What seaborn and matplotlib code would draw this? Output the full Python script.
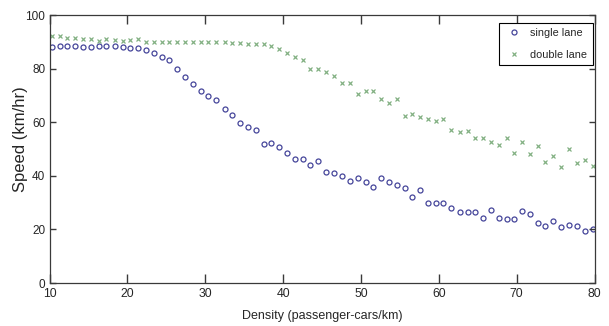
import numpy as np
import pandas as pd
import seaborn as sns
import matplotlib
matplotlib.use('Agg')
import matplotlib.pyplot as plt


#densité (passenger-cars/km)
density = [10.3, 11.3, 12.3, 13.3, 14.3, 15.3, 16.3, 17.3, 18.4, 19.4,
           20.4, 21.4, 22.4, 23.4, 24.4, 25.4, 26.4, 27.4, 28.4, 29.4,
           30.4, 31.4, 32.5, 33.5, 34.5, 35.5, 36.5, 37.5, 38.5, 39.5,
           40.5, 41.5, 42.5, 43.5, 44.5, 45.5, 46.5, 47.6, 48.6, 49.6,
           50.6, 51.6, 52.6, 53.6, 54.6, 55.6, 56.6, 57.6, 58.6, 59.6,
           60.6, 61.6, 62.7, 63.7, 64.7, 65.7, 66.7, 67.7, 68.7, 69.7,
           70.7, 71.7, 72.7, 73.7, 74.7, 75.7, 76.7, 77.8, 78.8, 79.8]

#vitesse voie simple
single_lane = [88.2, 88.3, 88.5, 88.3, 88.0, 88.1, 88.4, 88.4, 88.4, 88.1,
               87.8, 87.7, 87.1, 86.0, 84.4, 83.2, 80.0, 76.7, 74.2, 71.7,
               69.7, 68.1, 64.8, 62.7, 59.6, 58.3, 57.0, 52.0, 52.3, 50.7,
               48.6, 46.4, 46.1, 44.0, 45.5, 41.5, 41.0, 39.8, 38.0, 39.0,
               37.6, 36.0, 39.2, 37.6, 36.6, 35.3, 32.2, 34.8, 29.7, 30.0,
               29.7, 27.9, 26.6, 26.6, 26.4, 24.3, 27.1, 24.2, 23.9, 23.8,
               26.8, 25.9, 22.4, 21.3, 23.1, 21.0, 21.6, 21.2, 19.3, 20.2]

#vitesse voie double
double_lane = [92.2, 92.2, 91.5, 91.3, 90.9, 91.0, 90.4, 90.9, 90.7, 90.4,
               90.7, 90.9, 90.0, 90.0, 89.8, 89.8, 89.8, 89.8, 89.8, 89.8,
               89.8, 89.8, 89.8, 89.4, 89.4, 89.0, 89.0, 89.0, 88.6, 87.3,
               86.0, 84.4, 83.2, 80.0, 79.8, 78.9, 77.3, 74.5, 74.8, 70.7,
               71.8, 71.8, 68.6, 67.2, 68.5, 62.3, 62.9, 62.1, 61.1, 60.6,
               61.2, 57.2, 56.5, 56.8, 54.0, 54.2, 52.7, 51.5, 54.2, 48.5,
               52.7, 48.0, 51.1, 45.3, 47.5, 43.2, 49.9, 44.9, 45.8, 43.5]

x_ticks = [10, 20, 30, 40, 50, 60, 70, 80]
y_ticks = [0, 20, 40, 60, 80, 100]

df = pd.DataFrame({'density': density, 'single': single_lane, 'double': double_lane})

sns.set_style('ticks')
plt.rcParams['font.family'] = ['Liberation Sans', 'DejaVu Sans']

fig = plt.figure(figsize=(6.09, 3.26), dpi=100)
ax = fig.add_axes([49.5 / 609, 43 / 326, 545 / 609, 268 / 326])

sns.lineplot(data=df, x='density', y='single', ax=ax, estimator=None, sort=False,
             linestyle='none', marker='o', markersize=3.6, mfc='none',
             mec='#45459a', mew=0.9, color='#45459a', label='single lane')
sns.lineplot(data=df, x='density', y='double', ax=ax, estimator=None, sort=False,
             linestyle='none', marker='x', markersize=3.4,
             mec='#82b082', mew=0.9, color='#82b082', label='double lane')

ax.set_xlim(10, 80)
ax.set_ylim(0, 100)
ax.set_xticks(x_ticks)
ax.set_yticks(y_ticks)

#cadre façon matlab, ticks vers l'intérieur sur les 4 côtés
#(axisbelow à False sinon les ticks intérieurs disparaissent)
ax.set_axisbelow(False)
for s in ax.spines.values():
    s.set_visible(True)
    s.set_color('#3a3a3a')
    s.set_linewidth(0.9)
ax.xaxis.set_tick_params(which='major', direction='in', length=6.5, width=1.0,
                         color='#3a3a3a', top=True, bottom=True,
                         labelsize=8.8, pad=3.5)
ax.yaxis.set_tick_params(which='major', direction='in', length=4.3, width=1.0,
                         color='#3a3a3a', left=True, right=True,
                         labelsize=8.5, pad=3)

ax.set_xlabel('Density (passenger-cars/km)', fontsize=9, labelpad=7.5)
ax.set_ylabel('Speed (km/hr)', fontsize=12)
ax.yaxis.set_label_coords(-0.039, 0.537)

leg = ax.legend(loc='upper right', bbox_to_anchor=(1 - 2 / 545, 1 - 7.7 / 268),
                borderaxespad=0, fontsize=7.8, numpoints=1, fancybox=False,
                framealpha=1, edgecolor='black', borderpad=0.5, labelspacing=1.1,
                handlelength=1.9, handletextpad=0.5)
leg.get_frame().set_linewidth(0.8)

fig.savefig('out.png', dpi=100)
